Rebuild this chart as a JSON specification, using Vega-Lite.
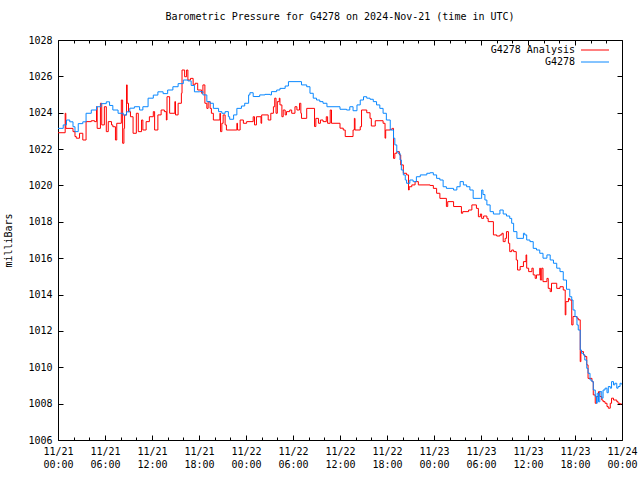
{
  "$schema": "https://vega.github.io/schema/vega-lite/v6.json",
  "width": 564,
  "height": 400,
  "autosize": "none",
  "padding": {"left": 58, "top": 40, "right": 18, "bottom": 40},
  "background": "white",
  "title": {"text": "Barometric Pressure for G4278 on 2024-Nov-21 (time in UTC)", "anchor": "middle", "frame": "group", "offset": 13, "font": "DejaVu Sans Mono", "fontSize": 10, "fontWeight": "normal", "color": "black"},
  "config": {
    "view": {"stroke": "black", "strokeWidth": 1},
    "axis": {"grid": false, "domain": false, "labelFont": "DejaVu Sans Mono", "labelFontSize": 10, "labelColor": "black", "tickColor": "black", "tickWidth": 1, "labelFlush": false, "labelOverlap": false, "titleFont": "DejaVu Sans Mono", "titleFontSize": 10, "titleFontWeight": "normal", "titleColor": "black"},
    "legend": {"labelFont": "DejaVu Sans Mono", "labelFontSize": 10, "labelColor": "black"}
  },
  "layer": [
    {
      "data": {"values": [
        {"t":"2024-11-21T00:00Z","p":1022.9},{"t":"2024-11-21T00:55Z","p":1023.97},{"t":"2024-11-21T01:00Z","p":1023.14},{"t":"2024-11-21T01:55Z","p":1022.96},{"t":"2024-11-21T02:10Z","p":1022.69},{"t":"2024-11-21T02:20Z","p":1022.6},{"t":"2024-11-21T02:45Z","p":1022.87},{"t":"2024-11-21T03:10Z","p":1022.5},{"t":"2024-11-21T03:35Z","p":1023.51},{"t":"2024-11-21T04:15Z","p":1023.56},{"t":"2024-11-21T04:40Z","p":1023.51},{"t":"2024-11-21T04:55Z","p":1024.33},{"t":"2024-11-21T05:00Z","p":1023.14},{"t":"2024-11-21T05:25Z","p":1024.52},{"t":"2024-11-21T05:35Z","p":1023.33},{"t":"2024-11-21T05:55Z","p":1024.33},{"t":"2024-11-21T06:10Z","p":1022.96},{"t":"2024-11-21T06:25Z","p":1023.51},{"t":"2024-11-21T06:50Z","p":1023.33},{"t":"2024-11-21T07:00Z","p":1023.23},{"t":"2024-11-21T07:20Z","p":1022.5},{"t":"2024-11-21T07:30Z","p":1023.42},{"t":"2024-11-21T08:05Z","p":1024.7},{"t":"2024-11-21T08:15Z","p":1022.32},{"t":"2024-11-21T08:25Z","p":1023.14},{"t":"2024-11-21T08:30Z","p":1023.88},{"t":"2024-11-21T08:45Z","p":1025.53},{"t":"2024-11-21T08:50Z","p":1024.52},{"t":"2024-11-21T09:00Z","p":1024.06},{"t":"2024-11-21T09:15Z","p":1023.78},{"t":"2024-11-21T09:35Z","p":1022.87},{"t":"2024-11-21T10:00Z","p":1023.97},{"t":"2024-11-21T10:15Z","p":1022.96},{"t":"2024-11-21T10:40Z","p":1023.6},{"t":"2024-11-21T10:50Z","p":1023.05},{"t":"2024-11-21T11:15Z","p":1023.51},{"t":"2024-11-21T11:40Z","p":1023.78},{"t":"2024-11-21T12:10Z","p":1024.06},{"t":"2024-11-21T12:20Z","p":1023.05},{"t":"2024-11-21T12:45Z","p":1023.88},{"t":"2024-11-21T13:10Z","p":1024.15},{"t":"2024-11-21T13:35Z","p":1024.06},{"t":"2024-11-21T13:50Z","p":1023.6},{"t":"2024-11-21T13:55Z","p":1024.88},{"t":"2024-11-21T14:15Z","p":1023.97},{"t":"2024-11-21T14:55Z","p":1024.61},{"t":"2024-11-21T15:00Z","p":1023.88},{"t":"2024-11-21T15:20Z","p":1024.52},{"t":"2024-11-21T15:45Z","p":1025.07},{"t":"2024-11-21T15:50Z","p":1026.35},{"t":"2024-11-21T16:10Z","p":1025.98},{"t":"2024-11-21T16:25Z","p":1026.35},{"t":"2024-11-21T16:35Z","p":1025.8},{"t":"2024-11-21T16:55Z","p":1025.89},{"t":"2024-11-21T17:15Z","p":1025.53},{"t":"2024-11-21T17:30Z","p":1025.62},{"t":"2024-11-21T17:50Z","p":1025.25},{"t":"2024-11-21T18:20Z","p":1025.07},{"t":"2024-11-21T18:30Z","p":1025.53},{"t":"2024-11-21T18:45Z","p":1024.52},{"t":"2024-11-21T19:00Z","p":1024.24},{"t":"2024-11-21T19:10Z","p":1024.61},{"t":"2024-11-21T19:25Z","p":1024.24},{"t":"2024-11-21T19:35Z","p":1023.97},{"t":"2024-11-21T19:50Z","p":1023.6},{"t":"2024-11-21T20:40Z","p":1023.97},{"t":"2024-11-21T20:45Z","p":1022.96},{"t":"2024-11-21T20:55Z","p":1023.42},{"t":"2024-11-21T21:05Z","p":1023.88},{"t":"2024-11-21T21:20Z","p":1023.33},{"t":"2024-11-21T21:30Z","p":1023.05},{"t":"2024-11-21T22:50Z","p":1023.42},{"t":"2024-11-21T22:55Z","p":1023.05},{"t":"2024-11-21T23:15Z","p":1023.6},{"t":"2024-11-21T23:40Z","p":1023.42},
        {"t":"2024-11-22T00:05Z","p":1023.51},{"t":"2024-11-22T00:55Z","p":1023.78},{"t":"2024-11-22T01:05Z","p":1023.33},{"t":"2024-11-22T01:20Z","p":1023.78},{"t":"2024-11-22T01:55Z","p":1023.42},{"t":"2024-11-22T02:00Z","p":1023.88},{"t":"2024-11-22T02:50Z","p":1023.6},{"t":"2024-11-22T03:10Z","p":1023.97},{"t":"2024-11-22T03:30Z","p":1024.33},{"t":"2024-11-22T03:40Z","p":1024.8},{"t":"2024-11-22T03:50Z","p":1023.97},{"t":"2024-11-22T04:00Z","p":1024.61},{"t":"2024-11-22T04:15Z","p":1024.8},{"t":"2024-11-22T04:20Z","p":1024.43},{"t":"2024-11-22T04:35Z","p":1023.78},{"t":"2024-11-22T04:45Z","p":1024.15},{"t":"2024-11-22T05:00Z","p":1023.88},{"t":"2024-11-22T05:10Z","p":1024.06},{"t":"2024-11-22T05:35Z","p":1024.15},{"t":"2024-11-22T05:50Z","p":1023.97},{"t":"2024-11-22T06:15Z","p":1024.33},{"t":"2024-11-22T06:30Z","p":1024.15},{"t":"2024-11-22T06:50Z","p":1024.52},{"t":"2024-11-22T07:00Z","p":1023.97},{"t":"2024-11-22T07:05Z","p":1023.69},{"t":"2024-11-22T07:45Z","p":1024.24},{"t":"2024-11-22T08:45Z","p":1023.24},{"t":"2024-11-22T08:55Z","p":1023.69},{"t":"2024-11-22T09:15Z","p":1023.42},{"t":"2024-11-22T09:30Z","p":1023.6},{"t":"2024-11-22T09:50Z","p":1023.51},{"t":"2024-11-22T10:15Z","p":1023.78},{"t":"2024-11-22T10:25Z","p":1023.42},{"t":"2024-11-22T10:45Z","p":1024.15},{"t":"2024-11-22T10:55Z","p":1023.42},{"t":"2024-11-22T12:00Z","p":1023.15},{"t":"2024-11-22T12:25Z","p":1023.05},{"t":"2024-11-22T12:40Z","p":1022.69},{"t":"2024-11-22T13:40Z","p":1023.05},{"t":"2024-11-22T13:50Z","p":1023.69},{"t":"2024-11-22T13:55Z","p":1023.05},{"t":"2024-11-22T14:35Z","p":1023.23},{"t":"2024-11-22T14:45Z","p":1024.15},{"t":"2024-11-22T15:25Z","p":1024.0},{"t":"2024-11-22T15:50Z","p":1023.69},{"t":"2024-11-22T16:00Z","p":1023.27},{"t":"2024-11-22T16:30Z","p":1023.56},{"t":"2024-11-22T17:30Z","p":1023.42},{"t":"2024-11-22T17:45Z","p":1022.6},{"t":"2024-11-22T17:50Z","p":1023.05},{"t":"2024-11-22T18:25Z","p":1023.09},{"t":"2024-11-22T18:40Z","p":1023.14},{"t":"2024-11-22T18:50Z","p":1021.49},{"t":"2024-11-22T19:00Z","p":1021.77},{"t":"2024-11-22T19:15Z","p":1021.86},{"t":"2024-11-22T19:35Z","p":1021.68},{"t":"2024-11-22T19:45Z","p":1021.13},{"t":"2024-11-22T20:05Z","p":1020.67},{"t":"2024-11-22T20:30Z","p":1020.58},{"t":"2024-11-22T20:45Z","p":1019.75},{"t":"2024-11-22T20:50Z","p":1019.93},{"t":"2024-11-22T21:10Z","p":1020.03},{"t":"2024-11-22T21:35Z","p":1020.21},{"t":"2024-11-22T22:00Z","p":1020.03},{"t":"2024-11-22T23:30Z","p":1020.0},{"t":"2024-11-22T23:55Z","p":1019.84},
        {"t":"2024-11-23T00:20Z","p":1019.57},{"t":"2024-11-23T00:45Z","p":1019.29},{"t":"2024-11-23T01:35Z","p":1018.84},{"t":"2024-11-23T01:45Z","p":1019.11},{"t":"2024-11-23T02:30Z","p":1018.84},{"t":"2024-11-23T03:30Z","p":1018.47},{"t":"2024-11-23T03:40Z","p":1018.56},{"t":"2024-11-23T04:25Z","p":1018.65},{"t":"2024-11-23T04:50Z","p":1018.93},{"t":"2024-11-23T05:25Z","p":1018.74},{"t":"2024-11-23T05:40Z","p":1018.28},{"t":"2024-11-23T05:55Z","p":1018.43},{"t":"2024-11-23T06:05Z","p":1018.19},{"t":"2024-11-23T06:20Z","p":1018.32},{"t":"2024-11-23T06:45Z","p":1018.19},{"t":"2024-11-23T06:55Z","p":1018.01},{"t":"2024-11-23T07:35Z","p":1017.28},{"t":"2024-11-23T08:00Z","p":1017.22},{"t":"2024-11-23T08:25Z","p":1017.28},{"t":"2024-11-23T08:40Z","p":1017.37},{"t":"2024-11-23T08:50Z","p":1016.91},{"t":"2024-11-23T09:05Z","p":1017.09},{"t":"2024-11-23T09:15Z","p":1017.46},{"t":"2024-11-23T09:30Z","p":1016.82},{"t":"2024-11-23T09:40Z","p":1016.36},{"t":"2024-11-23T09:55Z","p":1016.45},{"t":"2024-11-23T10:10Z","p":1016.36},{"t":"2024-11-23T10:30Z","p":1015.9},{"t":"2024-11-23T10:40Z","p":1015.35},{"t":"2024-11-23T11:00Z","p":1015.54},{"t":"2024-11-23T11:25Z","p":1015.81},{"t":"2024-11-23T11:45Z","p":1016.18},{"t":"2024-11-23T11:50Z","p":1015.45},{"t":"2024-11-23T12:05Z","p":1015.26},{"t":"2024-11-23T12:30Z","p":1015.45},{"t":"2024-11-23T12:40Z","p":1015.08},{"t":"2024-11-23T12:55Z","p":1014.89},{"t":"2024-11-23T13:05Z","p":1015.08},{"t":"2024-11-23T13:30Z","p":1015.45},{"t":"2024-11-23T13:35Z","p":1014.8},{"t":"2024-11-23T13:45Z","p":1015.45},{"t":"2024-11-23T13:55Z","p":1014.71},{"t":"2024-11-23T14:25Z","p":1014.89},{"t":"2024-11-23T14:35Z","p":1014.34},{"t":"2024-11-23T14:50Z","p":1014.16},{"t":"2024-11-23T15:00Z","p":1014.62},{"t":"2024-11-23T15:40Z","p":1014.34},{"t":"2024-11-23T16:05Z","p":1014.43},{"t":"2024-11-23T16:30Z","p":1014.25},{"t":"2024-11-23T16:45Z","p":1012.88},{"t":"2024-11-23T16:50Z","p":1013.61},{"t":"2024-11-23T17:10Z","p":1013.79},{"t":"2024-11-23T17:20Z","p":1013.7},{"t":"2024-11-23T17:35Z","p":1012.33},{"t":"2024-11-23T17:45Z","p":1012.79},{"t":"2024-11-23T18:15Z","p":1012.7},{"t":"2024-11-23T18:25Z","p":1012.61},{"t":"2024-11-23T18:40Z","p":1010.31},{"t":"2024-11-23T18:45Z","p":1010.86},{"t":"2024-11-23T19:05Z","p":1010.68},{"t":"2024-11-23T19:15Z","p":1010.59},{"t":"2024-11-23T19:30Z","p":1010.13},{"t":"2024-11-23T19:40Z","p":1009.39},{"t":"2024-11-23T20:10Z","p":1009.21},{"t":"2024-11-23T20:20Z","p":1008.48},{"t":"2024-11-23T20:35Z","p":1008.02},{"t":"2024-11-23T20:45Z","p":1008.39},{"t":"2024-11-23T21:00Z","p":1008.66},{"t":"2024-11-23T21:10Z","p":1008.39},{"t":"2024-11-23T21:25Z","p":1008.2},{"t":"2024-11-23T21:35Z","p":1008.11},{"t":"2024-11-23T21:50Z","p":1008.02},{"t":"2024-11-23T22:05Z","p":1007.84},{"t":"2024-11-23T22:15Z","p":1007.75},{"t":"2024-11-23T22:30Z","p":1008.02},{"t":"2024-11-23T22:40Z","p":1008.3},{"t":"2024-11-23T22:55Z","p":1008.2},{"t":"2024-11-23T23:20Z","p":1008.11},{"t":"2024-11-23T23:30Z","p":1008.02},{"t":"2024-11-23T23:45Z","p":1007.98},{"t":"2024-11-23T23:55Z","p":1008.0}
      ]},
      "mark": {"type": "line", "interpolate": "step-after", "strokeWidth": 1},
      "encoding": {
        "x": {"field": "t", "type": "temporal",
          "scale": {"type": "utc", "domain": [1732147200000, 1732406400000]},
          "axis": {"orient": "bottom", "title": null, "offset": -5, "tickSize": 5, "labelPadding": 6, "labelLineHeight": 13,
            "values": [1732147200000,1732168800000,1732190400000,1732212000000,1732233600000,1732255200000,1732276800000,1732298400000,1732320000000,1732341600000,1732363200000,1732384800000,1732406400000],
            "labelExpr": "[utcFormat(datum.value, '%m/%d'), utcFormat(datum.value, '%H:%M')]"}},
        "y": {"field": "p", "type": "quantitative",
          "scale": {"domain": [1006, 1028], "zero": false, "nice": false},
          "axis": {"orient": "left", "title": "milliBars", "offset": -5, "values": [1006,1008,1010,1012,1014,1016,1018,1020,1022,1024,1026,1028], "format": "d", "tickSize": 5, "labelPadding": 6, "titlePadding": 14}},
        "color": {"datum": "G4278 Analysis", "type": "nominal",
          "scale": {"domain": ["G4278 Analysis", "G4278"], "range": ["#ff0000", "#0a88ff"]},
          "legend": {"orient": "none", "legendX": 532, "legendY": 5, "title": null, "padding": 0, "symbolType": "M-3.5,0H3.5", "symbolSize": 64, "symbolStrokeWidth": 1, "labelAlign": "right", "labelOffset": -25, "rowPadding": 2}}
      }
    },
    {
      "data": {"values": [
        {"t":"2024-11-21T00:00Z","p":1023.14},{"t":"2024-11-21T00:40Z","p":1023.33},{"t":"2024-11-21T01:05Z","p":1023.6},{"t":"2024-11-21T01:30Z","p":1023.5},{"t":"2024-11-21T01:55Z","p":1023.23},{"t":"2024-11-21T02:10Z","p":1022.96},{"t":"2024-11-21T02:35Z","p":1023.4},{"t":"2024-11-21T03:10Z","p":1023.5},{"t":"2024-11-21T03:35Z","p":1023.97},{"t":"2024-11-21T04:15Z","p":1024.15},{"t":"2024-11-21T04:55Z","p":1024.33},{"t":"2024-11-21T05:30Z","p":1024.5},{"t":"2024-11-21T06:10Z","p":1024.6},{"t":"2024-11-21T06:35Z","p":1024.4},{"t":"2024-11-21T07:00Z","p":1024.15},{"t":"2024-11-21T07:40Z","p":1023.97},{"t":"2024-11-21T08:20Z","p":1023.87},{"t":"2024-11-21T08:45Z","p":1024.05},{"t":"2024-11-21T09:10Z","p":1024.25},{"t":"2024-11-21T09:45Z","p":1024.33},{"t":"2024-11-21T10:25Z","p":1024.15},{"t":"2024-11-21T10:50Z","p":1024.33},{"t":"2024-11-21T11:30Z","p":1024.8},{"t":"2024-11-21T12:10Z","p":1024.97},{"t":"2024-11-21T12:45Z","p":1025.15},{"t":"2024-11-21T13:25Z","p":1025.05},{"t":"2024-11-21T14:00Z","p":1025.25},{"t":"2024-11-21T14:40Z","p":1025.43},{"t":"2024-11-21T15:20Z","p":1025.6},{"t":"2024-11-21T16:00Z","p":1025.8},{"t":"2024-11-21T16:35Z","p":1025.75},{"t":"2024-11-21T17:00Z","p":1025.5},{"t":"2024-11-21T17:25Z","p":1025.15},{"t":"2024-11-21T18:05Z","p":1025.16},{"t":"2024-11-21T18:30Z","p":1024.98},{"t":"2024-11-21T19:00Z","p":1024.61},{"t":"2024-11-21T19:25Z","p":1024.52},{"t":"2024-11-21T19:50Z","p":1024.24},{"t":"2024-11-21T20:30Z","p":1024.06},{"t":"2024-11-21T20:55Z","p":1023.97},{"t":"2024-11-21T21:20Z","p":1024.06},{"t":"2024-11-21T21:45Z","p":1023.78},{"t":"2024-11-21T21:55Z","p":1023.64},{"t":"2024-11-21T22:25Z","p":1023.88},{"t":"2024-11-21T22:50Z","p":1024.24},{"t":"2024-11-21T23:25Z","p":1024.37},{"t":"2024-11-21T23:50Z","p":1024.52},
        {"t":"2024-11-22T00:20Z","p":1024.98},{"t":"2024-11-22T00:30Z","p":1025.1},{"t":"2024-11-22T00:55Z","p":1024.89},{"t":"2024-11-22T01:45Z","p":1024.98},{"t":"2024-11-22T02:25Z","p":1025.01},{"t":"2024-11-22T03:05Z","p":1024.98},{"t":"2024-11-22T03:15Z","p":1025.16},{"t":"2024-11-22T03:55Z","p":1025.25},{"t":"2024-11-22T04:20Z","p":1025.34},{"t":"2024-11-22T05:00Z","p":1025.47},{"t":"2024-11-22T05:25Z","p":1025.71},{"t":"2024-11-22T07:05Z","p":1025.53},{"t":"2024-11-22T07:45Z","p":1025.43},{"t":"2024-11-22T08:10Z","p":1025.07},{"t":"2024-11-22T08:35Z","p":1024.8},{"t":"2024-11-22T09:00Z","p":1024.7},{"t":"2024-11-22T09:25Z","p":1024.61},{"t":"2024-11-22T09:50Z","p":1024.52},{"t":"2024-11-22T10:20Z","p":1024.33},{"t":"2024-11-22T12:00Z","p":1024.19},{"t":"2024-11-22T12:50Z","p":1024.15},{"t":"2024-11-22T13:15Z","p":1024.33},{"t":"2024-11-22T13:40Z","p":1024.11},{"t":"2024-11-22T14:10Z","p":1024.43},{"t":"2024-11-22T14:35Z","p":1024.7},{"t":"2024-11-22T15:00Z","p":1024.88},{"t":"2024-11-22T15:25Z","p":1024.8},{"t":"2024-11-22T15:50Z","p":1024.74},{"t":"2024-11-22T16:15Z","p":1024.61},{"t":"2024-11-22T16:40Z","p":1024.43},{"t":"2024-11-22T17:05Z","p":1024.24},{"t":"2024-11-22T17:30Z","p":1023.97},{"t":"2024-11-22T17:55Z","p":1023.6},{"t":"2024-11-22T18:25Z","p":1023.05},{"t":"2024-11-22T18:50Z","p":1022.6},{"t":"2024-11-22T19:00Z","p":1022.23},{"t":"2024-11-22T19:15Z","p":1021.86},{"t":"2024-11-22T19:25Z","p":1021.77},{"t":"2024-11-22T19:40Z","p":1021.4},{"t":"2024-11-22T19:50Z","p":1020.85},{"t":"2024-11-22T20:05Z","p":1020.58},{"t":"2024-11-22T20:20Z","p":1020.3},{"t":"2024-11-22T20:30Z","p":1020.12},{"t":"2024-11-22T20:55Z","p":1020.3},{"t":"2024-11-22T21:20Z","p":1020.21},{"t":"2024-11-22T21:45Z","p":1020.48},{"t":"2024-11-22T22:15Z","p":1020.58},{"t":"2024-11-22T23:05Z","p":1020.67},{"t":"2024-11-22T23:30Z","p":1020.7},{"t":"2024-11-22T23:55Z","p":1020.58},
        {"t":"2024-11-23T00:20Z","p":1020.39},{"t":"2024-11-23T00:45Z","p":1020.3},{"t":"2024-11-23T01:10Z","p":1019.93},{"t":"2024-11-23T01:35Z","p":1019.84},{"t":"2024-11-23T02:30Z","p":1019.75},{"t":"2024-11-23T02:55Z","p":1019.93},{"t":"2024-11-23T03:20Z","p":1020.21},{"t":"2024-11-23T03:45Z","p":1020.03},{"t":"2024-11-23T04:10Z","p":1019.93},{"t":"2024-11-23T04:35Z","p":1019.75},{"t":"2024-11-23T05:00Z","p":1019.29},{"t":"2024-11-23T05:55Z","p":1019.29},{"t":"2024-11-23T06:05Z","p":1019.75},{"t":"2024-11-23T06:15Z","p":1019.5},{"t":"2024-11-23T06:30Z","p":1019.2},{"t":"2024-11-23T06:45Z","p":1018.93},{"t":"2024-11-23T07:10Z","p":1018.56},{"t":"2024-11-23T07:35Z","p":1018.43},{"t":"2024-11-23T08:25Z","p":1018.65},{"t":"2024-11-23T08:50Z","p":1018.43},{"t":"2024-11-23T09:15Z","p":1018.32},{"t":"2024-11-23T09:40Z","p":1018.19},{"t":"2024-11-23T09:55Z","p":1017.92},{"t":"2024-11-23T10:10Z","p":1017.46},{"t":"2024-11-23T10:35Z","p":1017.09},{"t":"2024-11-23T11:25Z","p":1017.37},{"t":"2024-11-23T11:35Z","p":1017.28},{"t":"2024-11-23T11:50Z","p":1017.0},{"t":"2024-11-23T12:15Z","p":1016.91},{"t":"2024-11-23T12:40Z","p":1016.54},{"t":"2024-11-23T13:05Z","p":1016.45},{"t":"2024-11-23T13:30Z","p":1016.27},{"t":"2024-11-23T13:55Z","p":1016.0},{"t":"2024-11-23T14:25Z","p":1016.18},{"t":"2024-11-23T14:50Z","p":1015.9},{"t":"2024-11-23T15:15Z","p":1015.72},{"t":"2024-11-23T15:40Z","p":1015.45},{"t":"2024-11-23T16:05Z","p":1015.26},{"t":"2024-11-23T16:30Z","p":1014.8},{"t":"2024-11-23T16:55Z","p":1014.29},{"t":"2024-11-23T17:20Z","p":1013.88},{"t":"2024-11-23T17:35Z","p":1013.7},{"t":"2024-11-23T17:45Z","p":1013.15},{"t":"2024-11-23T18:00Z","p":1012.79},{"t":"2024-11-23T18:15Z","p":1012.33},{"t":"2024-11-23T18:25Z","p":1012.05},{"t":"2024-11-23T18:40Z","p":1010.95},{"t":"2024-11-23T18:50Z","p":1010.77},{"t":"2024-11-23T19:05Z","p":1010.68},{"t":"2024-11-23T19:15Z","p":1010.4},{"t":"2024-11-23T19:30Z","p":1009.94},{"t":"2024-11-23T19:40Z","p":1009.67},{"t":"2024-11-23T19:55Z","p":1009.3},{"t":"2024-11-23T20:10Z","p":1009.21},{"t":"2024-11-23T20:20Z","p":1008.75},{"t":"2024-11-23T20:35Z","p":1008.39},{"t":"2024-11-23T20:45Z","p":1008.02},{"t":"2024-11-23T20:50Z","p":1008.57},{"t":"2024-11-23T21:00Z","p":1008.1},{"t":"2024-11-23T21:10Z","p":1008.66},{"t":"2024-11-23T21:25Z","p":1008.3},{"t":"2024-11-23T21:35Z","p":1008.75},{"t":"2024-11-23T21:50Z","p":1008.85},{"t":"2024-11-23T22:05Z","p":1008.6},{"t":"2024-11-23T22:15Z","p":1008.94},{"t":"2024-11-23T22:30Z","p":1008.85},{"t":"2024-11-23T22:40Z","p":1009.21},{"t":"2024-11-23T22:55Z","p":1009.03},{"t":"2024-11-23T23:05Z","p":1009.12},{"t":"2024-11-23T23:20Z","p":1008.85},{"t":"2024-11-23T23:30Z","p":1008.94},{"t":"2024-11-23T23:45Z","p":1009.12},{"t":"2024-11-23T23:55Z","p":1009.05}
      ]},
      "mark": {"type": "line", "interpolate": "step-after", "strokeWidth": 1},
      "encoding": {
        "x": {"field": "t", "type": "temporal",
          "axis": {"orient": "top", "title": null, "labels": false, "offset": -5, "tickSize": 5,
            "values": [1732147200000,1732168800000,1732190400000,1732212000000,1732233600000,1732255200000,1732276800000,1732298400000,1732320000000,1732341600000,1732363200000,1732384800000,1732406400000]}},
        "y": {"field": "p", "type": "quantitative",
          "axis": {"orient": "right", "title": null, "labels": false, "offset": -5, "values": [1006,1008,1010,1012,1014,1016,1018,1020,1022,1024,1026,1028], "tickSize": 5}},
        "color": {"datum": "G4278", "type": "nominal"}
      }
    },
    {
      "data": {"values": [{"t":"2024-11-21T00:00Z","p":1023.14}]},
      "mark": {"type": "line", "strokeOpacity": 0},
      "encoding": {
        "x": {"field": "t", "type": "temporal",
          "axis": {"orient": "bottom", "title": null, "labels": false, "offset": -3, "tickSize": 3,
            "values": [1732154400000,1732161600000,1732176000000,1732183200000,1732197600000,1732204800000,1732219200000,1732226400000,1732240800000,1732248000000,1732262400000,1732269600000,1732284000000,1732291200000,1732305600000,1732312800000,1732327200000,1732334400000,1732348800000,1732356000000,1732370400000,1732377600000,1732392000000,1732399200000]}},
        "y": {"field": "p", "type": "quantitative", "axis": null}
      }
    },
    {
      "data": {"values": [{"t":"2024-11-21T00:00Z","p":1023.14}]},
      "mark": {"type": "line", "strokeOpacity": 0},
      "encoding": {
        "x": {"field": "t", "type": "temporal",
          "axis": {"orient": "top", "title": null, "labels": false, "offset": -3, "tickSize": 3,
            "values": [1732154400000,1732161600000,1732176000000,1732183200000,1732197600000,1732204800000,1732219200000,1732226400000,1732240800000,1732248000000,1732262400000,1732269600000,1732284000000,1732291200000,1732305600000,1732312800000,1732327200000,1732334400000,1732348800000,1732356000000,1732370400000,1732377600000,1732392000000,1732399200000]}},
        "y": {"field": "p", "type": "quantitative", "axis": null}
      }
    }
  ],
  "resolve": {"axis": {"x": "independent", "y": "independent"}}
}
